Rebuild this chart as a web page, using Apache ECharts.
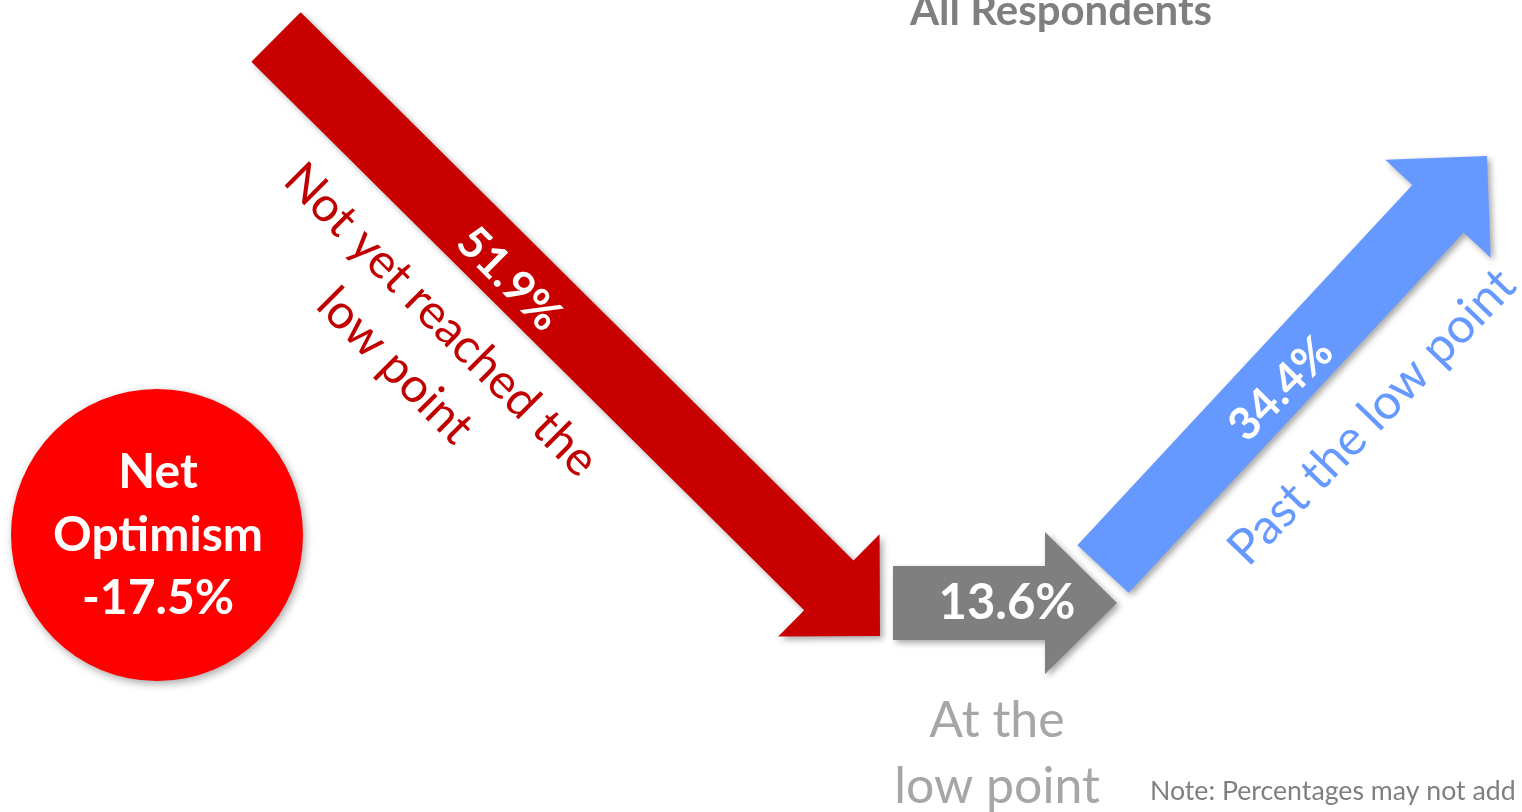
<!DOCTYPE html>
<html><head><meta charset="utf-8">
<script src="https://cdn.jsdelivr.net/npm/echarts@6/dist/echarts.min.js"></script>
<style>html,body{margin:0;padding:0;background:#fff;overflow:hidden}#c{width:1522px;height:812px}</style>
</head><body><div id="c"></div>
<script>
// ---- data ----
const categories = ['Not yet reached the\nlow point', 'At the\nlow point', 'Past the low point'];
const shares = [51.9, 13.6, 34.4];
const netLabel = ['Net', 'Optimism'];
const netOptimism = [-17.5];
const titleText = 'All Respondents';
const noteText = 'Note: Percentages may not add';

// ---- layout (pixel space of hidden 1522x812 axes) ----
const FONT = 'Lato, "Open Sans", sans-serif';
const arrowLayout = [
  {tail:[276,37], tip:[880,636], shaft:35, head:72, headLen:72, color:'#c80000',
   valuePos:[509,279], valueRot:-Math.PI/4, valueSize:45,
   namePos:[418,343], nameRot:-Math.PI/4, nameColor:'#c00000', nameSize:48, nameLH:65},
  {tail:[893,603], tip:[1117,603], shaft:37, head:71, headLen:72, color:'#7f7f7f',
   valuePos:[1007,603], valueRot:0, valueSize:49,
   namePos:[997,754], nameRot:0, nameColor:'#a6a6a6', nameSize:50, nameLH:66},
  {tail:[1103,569], tip:[1487,156], shaft:35, head:72, headLen:72, color:'#6699ff',
   valuePos:[1281,389], valueRot:Math.PI/4, valueSize:45,
   namePos:[1372,417], nameRot:Math.PI*46/180, nameColor:'#6699ff', nameSize:49, nameLH:64}
];
const circleLayout = {center:[157,535], r:146, color:'#ff0000', textSize:48, lineH:63};

function arrowItem(params, api) {
  const i = params.dataIndex;
  const L = arrowLayout[i];
  const a = api.coord(L.tail), b = api.coord(L.tip);
  const dx = b[0]-a[0], dy = b[1]-a[1];
  const len = Math.hypot(dx, dy);
  const d = [dx/len, dy/len], n = [-d[1], d[0]];
  const base = [b[0]-d[0]*L.headLen, b[1]-d[1]*L.headLen];
  const p = (pt, k) => [pt[0]+n[0]*k, pt[1]+n[1]*k];
  const pts = [p(a, L.shaft), p(base, L.shaft), p(base, L.head), b, p(base, -L.head), p(base, -L.shaft), p(a, -L.shaft)];
  const vp = api.coord(L.valuePos), np = api.coord(L.namePos);
  return {
    type: 'group',
    children: [
      {type:'polygon', shape:{points:pts},
       style:{fill:L.color, shadowBlur:6, shadowOffsetX:3, shadowOffsetY:3, shadowColor:'rgba(0,0,0,0.35)'}},
      {type:'text', x:vp[0], y:vp[1], rotation:L.valueRot,
       style:{text: api.value(1).toFixed(1)+'%', fill:'#ffffff', font:'bold '+L.valueSize+'px '+FONT,
              align:'center', verticalAlign:'middle'}},
      {type:'text', x:np[0], y:np[1], rotation:L.nameRot,
       style:{text: categories[i], fill:L.nameColor, font:L.nameSize+'px '+FONT, lineHeight:L.nameLH,
              align:'center', verticalAlign:'middle'}}
    ]
  };
}

function circleItem(params, api) {
  const C = circleLayout;
  const c = api.coord(C.center);
  const v = api.value(0);
  return {
    type:'group',
    children:[
      {type:'circle', shape:{cx:c[0], cy:c[1], r:C.r},
       style:{fill:C.color, shadowBlur:8, shadowOffsetX:2, shadowOffsetY:3, shadowColor:'rgba(0,0,0,0.35)'}},
      {type:'text', x:c[0]+1, y:c[1]+1,
       style:{text: netLabel.join('\n') + '\n' + v.toFixed(1) + '%', fill:'#ffffff',
              font:'bold '+C.textSize+'px '+FONT, lineHeight:C.lineH, align:'center', verticalAlign:'middle'}}
    ]
  };
}

const chart = echarts.init(document.getElementById('c'), null, {renderer:'canvas'});
chart.setOption({
  animation:false,
  backgroundColor:'#ffffff',
  grid:{left:0, right:0, top:0, bottom:0, containLabel:false},
  xAxis:{type:'value', min:0, max:1522, show:false},
  yAxis:{type:'value', min:0, max:812, inverse:true, show:false},
  graphic:[
    {type:'text', x:1061, y:11, style:{text:titleText, fill:'#7f7f7f', font:'bold 42px '+FONT, align:'center', verticalAlign:'middle'}},
    {type:'text', x:1150, y:791, style:{text:noteText, fill:'#7f7f7f', font:'26.7px '+FONT, align:'left', verticalAlign:'middle'}}
  ],
  series:[
    {type:'custom', renderItem:arrowItem, clip:false, silent:true,
     data: shares.map((v,i)=>[i, v])},
    {type:'custom', renderItem:circleItem, clip:false, silent:true,
     data: netOptimism.map(v=>[v])}
  ]
});
</script></body></html>
